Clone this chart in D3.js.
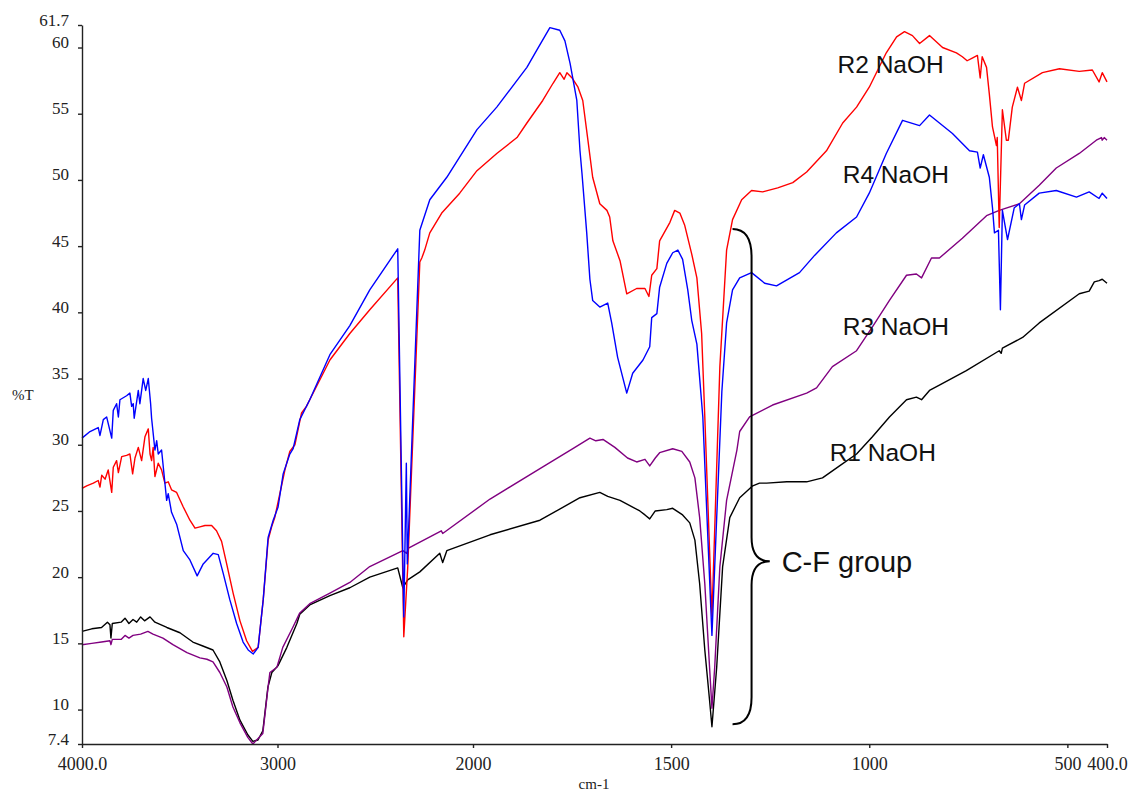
<!DOCTYPE html>
<html>
<head>
<meta charset="utf-8">
<script src="https://cdn.jsdelivr.net/npm/d3@7.9.0/dist/d3.min.js"></script>
<style>
  html, body { margin: 0; padding: 0; background: #fff; }
  svg { display: block; }
</style>
</head>
<body>
<svg id="chart" width="1134" height="794"></svg>
<script>
// ---- data: [wavenumber cm-1, %T] ----
const r1 = [[4000,15.9],[3950,16.1],[3900,16.2],[3870,16.6],[3857,16.4],[3852,15.4],[3845,16.5],[3800,16.6],
  [3780,16.9],[3760,16.5],[3739,16.8],[3720,16.6],[3700,17.0],[3680,16.7],[3652,17.0],[3627,16.6],[3566,16.2],
  [3499,15.8],[3433,15.1],[3382,14.8],[3330,14.5],[3295,13.6],[3259,12.2],[3228,10.7],[3192,9.2],[3152,8.1],
  [3126,7.6],[3100,7.7],[3075,8.4],[3049,11.7],[3029,12.8],[2998,13.3],[2952,14.7],[2901,16.5],[2886,17.2],
  [2835,17.9],[2732,18.6],[2630,19.2],[2528,20.0],[2385,20.7],[2359,19.2],[2334,19.8],[2272,20.4],[2170,21.8],
  [2155,21.1],[2134,22.0],[1957,23.2],[1831,24.3],[1730,26.0],[1680,26.4],[1660,26.1],[1629,25.8],[1579,25.0],
  [1566,24.7],[1554,24.4],[1540,25.0],[1511,25.1],[1496,25.2],[1471,24.7],[1453,24.1],[1440,22.8],[1428,19.5],
  [1415,14.5],[1403,10.7],[1397,8.7],[1385,13.2],[1370,20.8],[1352,24.5],[1327,26.0],[1294,26.9],[1277,27.1],
  [1259,27.1],[1208,27.2],[1158,27.2],[1118,27.5],[1075,28.4],[1032,29.3],[992,30.6],[949,32.1],[906,33.4],
  [881,33.6],[868,33.4],[848,34.1],[823,34.5],[755,35.6],[672,37.1],[667,36.9],[664,37.3],[613,38.1],[571,39.2],
  [470,41.4],[445,41.6],[432,42.3],[420,42.4],[412,42.5],[400,42.2]];

const r2 = [[4000,26.7],[3976,26.9],[3942,27.1],[3917,27.3],[3908,26.8],[3899,27.7],[3882,27.4],[3866,28.1],
  [3848,26.4],[3840,28.3],[3823,28.8],[3814,27.9],[3797,29.1],[3772,29.2],[3755,29.3],[3741,27.8],[3729,29.0],
  [3712,29.8],[3695,28.8],[3678,30.6],[3661,31.2],[3652,29.3],[3644,28.8],[3636,29.8],[3627,27.6],[3610,28.6],
  [3593,28.1],[3576,27.1],[3559,27.2],[3542,26.6],[3516,26.4],[3482,25.3],[3448,24.3],[3422,23.7],[3397,23.8],
  [3371,23.9],[3337,23.9],[3312,23.5],[3286,22.7],[3260,21.0],[3227,18.8],[3192,16.7],[3158,15.2],[3128,14.4],
  [3099,14.7],[3073,18.3],[3048,22.8],[3030,23.8],[3014,24.5],[2988,26.3],[2962,28.1],[2937,29.5],[2911,30.0],
  [2877,32.4],[2852,32.9],[2835,33.4],[2732,36.4],[2630,38.4],[2528,40.2],[2385,42.6],[2354,15.5],[2334,20.7],
  [2272,43.8],[2262,44.1],[2247,44.7],[2221,46.0],[2160,47.5],[2068,49.0],[1990,50.7],[1940,52.0],[1889,53.2],
  [1864,54.3],[1824,56.0],[1798,57.3],[1781,58.1],[1770,57.6],[1763,58.1],[1750,57.7],[1735,57.0],[1723,56.0],
  [1710,53.0],[1698,50.2],[1680,48.2],[1662,47.7],[1655,47.2],[1647,45.4],[1629,43.9],[1612,41.4],[1587,41.8],
  [1566,41.8],[1556,41.2],[1549,42.8],[1536,43.3],[1529,45.4],[1503,46.8],[1491,47.7],[1478,47.5],[1466,46.6],
  [1448,44.4],[1435,42.6],[1423,38.4],[1415,32.1],[1397,17.0],[1377,35.9],[1360,44.7],[1345,47.0],[1322,48.5],
  [1297,49.2],[1269,49.1],[1231,49.4],[1193,49.8],[1158,50.6],[1108,52.2],[1067,54.3],[1032,55.5],[1000,57.0],
  [957,59.6],[931,60.8],[911,61.2],[891,60.9],[873,60.3],[848,60.9],[815,60.0],[780,59.6],[765,59.3],[753,59.0],
  [740,59.2],[727,59.4],[720,57.7],[715,59.3],[704,58.5],[697,56.5],[689,54.0],[679,52.6],[677,53.2],[672,46.4],
  [664,55.3],[654,53.0],[649,53.0],[639,55.5],[626,57.0],[616,56.0],[608,57.3],[563,58.1],[520,58.4],[470,58.2],
  [437,58.3],[420,57.4],[412,58.1],[400,57.4]];

const r3 = [[4000,14.9],[3950,15.0],[3900,15.1],[3857,15.2],[3852,14.9],[3845,15.3],[3800,15.3],[3780,15.6],
  [3760,15.4],[3739,15.6],[3700,15.7],[3663,15.9],[3637,15.7],[3586,15.4],[3535,14.9],[3463,14.3],[3397,13.9],
  [3361,13.8],[3330,13.6],[3295,12.8],[3259,11.7],[3228,10.2],[3192,9.0],[3152,7.9],[3126,7.4],[3075,8.2],
  [3049,11.6],[3039,12.8],[3003,13.2],[2973,14.7],[2922,16.2],[2886,17.3],[2835,18.0],[2732,18.8],[2630,19.6],
  [2528,20.8],[2359,22.0],[2339,21.8],[2330,22.2],[2162,23.5],[2155,23.3],[1957,25.9],[1831,28.2],[1748,29.7],
  [1705,30.5],[1690,30.3],[1672,30.4],[1642,29.8],[1610,29.0],[1587,28.7],[1566,28.9],[1554,28.4],[1540,29.0],
  [1529,29.4],[1496,29.7],[1473,29.5],[1453,28.7],[1440,27.5],[1428,24.5],[1415,19.5],[1403,13.2],[1397,10.1],
  [1390,13.2],[1377,20.8],[1360,25.8],[1334,29.6],[1327,31.0],[1302,32.1],[1244,33.0],[1158,33.9],[1133,34.3],
  [1093,35.9],[1032,37.1],[992,38.9],[949,40.9],[906,42.8],[881,42.9],[868,42.6],[843,44.1],[823,44.1],
  [765,45.6],[704,47.3],[672,47.7],[621,48.2],[571,49.6],[528,50.9],[470,52.0],[427,53.0],[414,53.2],[412,53.0],
  [407,53.2],[400,53.0]];

const r4 = [[4000,30.5],[3959,31.0],[3917,31.3],[3908,30.7],[3891,31.9],[3874,32.1],[3848,30.5],[3840,32.6],
  [3823,33.1],[3814,32.1],[3806,33.4],[3772,33.7],[3755,33.9],[3746,32.9],[3738,33.1],[3733,32.0],[3712,34.1],
  [3704,33.1],[3687,35.0],[3674,34.1],[3661,35.0],[3649,33.1],[3644,32.0],[3627,29.6],[3618,30.3],[3610,29.3],
  [3593,29.6],[3567,25.8],[3559,26.3],[3542,24.9],[3516,24.0],[3482,22.0],[3448,21.3],[3411,20.1],[3380,21.0],
  [3329,21.8],[3303,21.7],[3278,20.3],[3244,18.3],[3209,16.5],[3176,15.1],[3150,14.5],[3124,14.2],[3099,14.7],
  [3073,18.3],[3048,23.0],[3022,24.3],[2997,25.3],[2971,27.8],[2937,29.3],[2920,29.7],[2886,31.9],[2835,33.4],
  [2732,36.8],[2630,39.0],[2528,41.7],[2385,44.8],[2354,17.0],[2341,28.6],[2336,21.0],[2272,46.2],[2221,48.5],
  [2134,50.2],[1990,53.8],[1940,55.5],[1864,58.5],[1839,59.8],[1806,61.5],[1781,61.3],[1768,60.5],[1755,58.8],
  [1738,56.0],[1730,52.2],[1725,50.5],[1713,46.0],[1705,42.5],[1698,40.9],[1680,40.4],[1660,40.7],[1650,39.2],
  [1635,36.6],[1612,33.9],[1597,35.4],[1571,36.4],[1554,37.4],[1549,39.6],[1536,39.9],[1529,41.9],[1511,43.7],
  [1496,44.5],[1483,44.7],[1471,44.0],[1458,41.7],[1448,39.4],[1435,37.6],[1420,32.1],[1397,15.6],[1385,24.5],
  [1372,34.0],[1360,39.2],[1345,41.7],[1327,42.6],[1297,43.0],[1264,42.2],[1234,42.0],[1176,43.0],[1138,44.3],
  [1083,46.0],[1032,47.2],[1000,49.0],[957,52.0],[916,54.5],[873,54.1],[848,54.9],[790,53.5],[747,52.2],
  [727,52.1],[720,50.9],[712,51.9],[697,50.2],[689,47.9],[684,46.0],[674,46.2],[669,40.2],[664,47.7],[651,45.5],
  [634,47.9],[621,48.2],[616,47.0],[608,48.1],[571,49.0],[528,49.2],[477,48.7],[445,49.1],[420,48.6],[412,49.0],
  [400,48.6]];

const seriesNames = ["R1 NaOH", "R3 NaOH", "R2 NaOH", "R4 NaOH"];
const seriesData = [r1, r3, r2, r4];
const seriesColors = ["#000000", "#800080", "#ff0000", "#0000ff"];

const xTicks = [4000, 3000, 2000, 1500, 1000, 500, 400];
const yTicks = [7.4, 10, 15, 20, 25, 30, 35, 40, 45, 50, 55, 60, 61.7];

// label anchors in data units [wavenumber, %T] (left end of text, baseline)
const labelPos = { "R2 NaOH": [1080, 58.1], "R4 NaOH": [1067, 49.8], "R3 NaOH": [1067, 38.3], "R1 NaOH": [1100, 28.8] };

// ---- scales: the x axis is expanded 2x below 2000 cm-1 ----
const x = d3.scaleLinear().domain([4000, 2000, 400]).range([82, 473, 1107]);
const y = d3.scaleLinear().domain([7.4, 61.7]).range([744, 25]);

const svg = d3.select("#chart");
svg.append("rect").attr("width", 1134).attr("height", 794).attr("fill", "#fff");

// spectra
const line = d3.line().x(d => x(d[0])).y(d => y(d[1]));
svg.selectAll("path.spec")
  .data(seriesData)
  .enter()
  .append("path")
  .attr("class", "spec")
  .attr("d", line)
  .attr("fill", "none")
  .attr("stroke", (d, i) => seriesColors[i])
  .attr("stroke-width", 1.4)
  .attr("stroke-linejoin", "round");

// axes
const serif = "'Liberation Serif', 'Times New Roman', serif";
const yAxis = svg.append("g")
  .attr("transform", `translate(${x(4000)},0)`)
  .attr("font-family", serif)
  .call(d3.axisLeft(y).tickValues(yTicks).tickSize(4).tickSizeOuter(0).tickPadding(9)
    .tickFormat(d => (d === 7.4 || d === 61.7) ? d.toFixed(1) : d));
yAxis.attr("font-family", serif);
yAxis.selectAll("text").attr("dy", "0").style("font-family", serif).style("font-size", "17px").attr("fill", "#222");

const xAxis = svg.append("g")
  .attr("transform", `translate(0,${y(7.4)})`)
  .call(d3.axisBottom(x).tickValues(xTicks).tickSize(4).tickSizeOuter(0).tickPadding(9)
    .tickFormat(d => (d === 4000 || d === 400) ? d.toFixed(1) : d));
xAxis.attr("font-family", serif);
xAxis.selectAll("text").style("font-family", serif).style("font-size", "18px").attr("fill", "#222");

svg.selectAll(".domain, .tick line").attr("stroke", "#222").attr("stroke-width", 1.4);

svg.append("text").attr("x", 12).attr("y", 400)
  .style("font-family", serif).style("font-size", "15px").attr("fill", "#222").text("%T");
svg.append("text").attr("x", 594).attr("y", 789).attr("text-anchor", "middle")
  .style("font-family", serif).style("font-size", "15px").attr("fill", "#222").text("cm-1");

// series labels
svg.selectAll("text.lab")
  .data(seriesNames)
  .enter()
  .append("text")
  .attr("class", "lab")
  .attr("x", d => x(labelPos[d][0]))
  .attr("y", d => y(labelPos[d][1]))
  .style("font-family", "'Liberation Sans', Arial, sans-serif")
  .style("font-size", "24.5px")
  .attr("fill", "#111")
  .text(d => d);

// curly brace marking the C-F band
const bx = x(1297), tipX = x(1251), leftX = x(1345);
const bTop = y(46.3), bBot = y(8.9), bMid = y(21.2);
const brace = d3.path();
brace.moveTo(leftX, bTop);
brace.quadraticCurveTo(bx, bTop, bx, bTop + 28);
brace.lineTo(bx, bMid - 24);
brace.quadraticCurveTo(bx, bMid, tipX, bMid);
brace.quadraticCurveTo(bx, bMid, bx, bMid + 24);
brace.lineTo(bx, bBot - 27);
brace.quadraticCurveTo(bx, bBot, leftX, bBot);
svg.append("path").attr("d", brace.toString())
  .attr("fill", "none").attr("stroke", "#000").attr("stroke-width", 2);

svg.append("text").attr("x", x(1221)).attr("y", y(20.4))
  .style("font-family", "'Liberation Sans', Arial, sans-serif")
  .style("font-size", "29px").attr("fill", "#111").text("C-F group");
</script>
</body>
</html>
